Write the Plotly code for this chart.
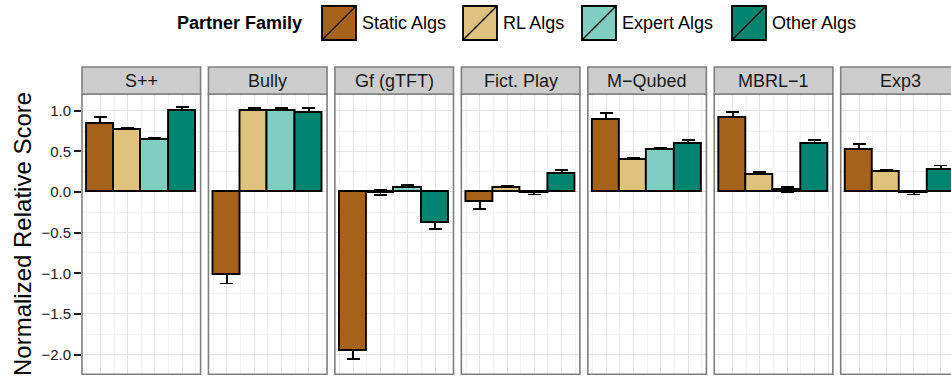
import plotly.graph_objects as go

# ---- data -------------------------------------------------------------
players = ["S++", "Bully", "Gf (gTFT)", "Fict. Play", "M\u2212Qubed", "MBRL\u22121", "Exp3"]
families = ["Static Algs", "RL Algs", "Expert Algs", "Other Algs"]
family_colors = ["#A6611A", "#DFC27D", "#80CDC1", "#018571"]

static_mean = [0.84, -1.025, -1.955, -0.125, 0.89, 0.905, 0.515]
static_err = [0.08, 0.10, 0.10, 0.08, 0.08, 0.08, 0.08]
rl_mean = [0.76, 1.00, -0.01, 0.045, 0.39, 0.215, 0.25]
rl_err = [0.03, 0.03, 0.03, 0.03, 0.03, 0.03, 0.025]
expert_mean = [0.64, 1.00, 0.05, -0.01, 0.52, 0.03, -0.01]
expert_err = [0.02, 0.03, 0.035, 0.02, 0.025, 0.03, 0.02]
other_mean = [1.00, 0.97, -0.385, 0.22, 0.585, 0.59, 0.275]
other_err = [0.045, 0.06, 0.07, 0.055, 0.05, 0.05, 0.05]

y_ticks = [-2.0, -1.5, -1.0, -0.5, 0.0, 0.5, 1.0]
y_tick_text = ["\u22122.0", "\u22121.5", "\u22121.0", "\u22120.5", "0.0", "0.5", "1.0"]

# ---- geometry (pixels) -------------------------------------------------
W, H = 951, 381
PANEL_LEFT0 = 82.0
PANEL_PITCH = 126.45
PANEL_W = 118.6
PANEL_TOP, PANEL_BOTTOM = 94.0, 374.3
STRIP_TOP = 67.0
X_RANGE = (0.328, 4.672)
Y_RANGE = (-2.242, 1.205)
px_per_unit = PANEL_W / (X_RANGE[1] - X_RANGE[0])

FONT = "Liberation Sans, Arial, Helvetica, sans-serif"
GRID_MAJOR = "#e5e5e5"
GRID_MINOR = "#f3f3f3"
BORDER = "#7f7f7f"


def px_x(p):
    return p / W


def px_y(p):
    return 1 - p / H


fig = go.Figure()
shapes = []
annotations = []

means = [static_mean, rl_mean, expert_mean, other_mean]
errs = [static_err, rl_err, expert_err, other_err]
xs = [1, 2, 3, 4]

for i, name in enumerate(players):
    n = "" if i == 0 else str(i + 1)
    xa, ya = "x" + n, "y" + n
    left = PANEL_LEFT0 + i * PANEL_PITCH
    right = min(left + PANEL_W, W)
    xr_end = X_RANGE[0] + (right - left) / px_per_unit

    vals = [m[i] for m in means]
    ers = [e[i] for e in errs]

    # error bars first, so the bars drawn afterwards cover their inner half
    fig.add_trace(go.Bar(
        x=xs, y=vals, width=1.0, xaxis=xa, yaxis=ya, showlegend=False,
        marker=dict(color="rgba(0,0,0,0)", line=dict(width=0)),
        error_y=dict(type="data", array=ers, symmetric=True, color="black",
                     thickness=1.8, width=6.5),
        hoverinfo="skip",
    ))
    fig.add_trace(go.Bar(
        x=xs, y=vals, width=1.0, xaxis=xa, yaxis=ya, showlegend=False,
        marker=dict(color=family_colors, line=dict(color="black", width=1.9)),
        hovertext=families, name=name,
    ))

    fig.layout["xaxis" + n] = dict(
        domain=[px_x(left), px_x(right)], range=[X_RANGE[0], xr_end],
        anchor=ya, showticklabels=False, ticks="", zeroline=False,
        showline=False, tickvals=xs, showgrid=True, gridcolor=GRID_MAJOR,
        gridwidth=1,
        minor=dict(tickvals=[0.5, 1.5, 2.5, 3.5, 4.5], showgrid=True,
                   gridcolor=GRID_MINOR, gridwidth=1, ticks=""),
        fixedrange=True,
    )
    ycfg = dict(
        domain=[px_y(PANEL_BOTTOM), px_y(PANEL_TOP)], range=list(Y_RANGE),
        anchor=xa, zeroline=False, showline=False, tickvals=y_ticks,
        showgrid=True, gridcolor=GRID_MAJOR, gridwidth=1,
        minor=dict(tickvals=[-2.25, -1.75, -1.25, -0.75, -0.25, 0.25, 0.75],
                   showgrid=True, gridcolor=GRID_MINOR, gridwidth=1, ticks=""),
        fixedrange=True,
    )
    if i == 0:
        ycfg.update(ticktext=y_tick_text, ticks="outside", ticklen=7,
                    tickwidth=1.8, tickcolor="#1a1a1a",
                    tickfont=dict(family=FONT, size=15, color="#1a1a1a"))
    else:
        ycfg.update(showticklabels=False, ticks="")
    fig.layout["yaxis" + n] = ycfg

    # panel border (the last one runs off the page edge)
    full_right = left + PANEL_W
    shapes.append(dict(type="rect", xref="paper", yref="paper",
                       x0=px_x(left), x1=px_x(full_right),
                       y0=px_y(PANEL_BOTTOM), y1=px_y(PANEL_TOP),
                       line=dict(color=BORDER, width=1.6), fillcolor="rgba(0,0,0,0)",
                       layer="above"))
    # strip
    shapes.append(dict(type="rect", xref="paper", yref="paper",
                       x0=px_x(left), x1=px_x(full_right),
                       y0=px_y(PANEL_TOP), y1=px_y(STRIP_TOP),
                       line=dict(color=BORDER, width=1.6), fillcolor="#cccccc",
                       layer="above"))
    annotations.append(dict(text=name, xref="paper", yref="paper",
                            x=px_x(left + PANEL_W / 2), y=px_y((STRIP_TOP + PANEL_TOP) / 2),
                            xanchor="center", yanchor="middle", showarrow=False,
                            font=dict(family=FONT, size=18, color="#1a1a1a")))

# y-axis title
annotations.append(dict(text="Normalized Relative Score", xref="paper", yref="paper",
                        x=px_x(22), y=px_y(234), xanchor="center", yanchor="middle",
                        textangle=-90, showarrow=False,
                        font=dict(family=FONT, size=24, color="black")))

# legend drawn at the top
annotations.append(dict(text="<b>Partner Family</b>", xref="paper", yref="paper",
                        x=px_x(304), y=px_y(23), xanchor="right", yanchor="middle",
                        showarrow=False, font=dict(family=FONT, size=18, color="black")))
key_left = [322, 463, 582, 732]
KEY_TOP, KEY_BOTTOM, KEY_W = 6, 40, 34
for fam, col, kx in zip(families, family_colors, key_left):
    shapes.append(dict(type="rect", xref="paper", yref="paper",
                       x0=px_x(kx), x1=px_x(kx + KEY_W),
                       y0=px_y(KEY_BOTTOM), y1=px_y(KEY_TOP),
                       fillcolor=col, line=dict(color="black", width=1.8)))
    shapes.append(dict(type="line", xref="paper", yref="paper",
                       x0=px_x(kx), x1=px_x(kx + KEY_W),
                       y0=px_y(KEY_BOTTOM), y1=px_y(KEY_TOP),
                       line=dict(color="black", width=1.5)))
    annotations.append(dict(text=fam, xref="paper", yref="paper",
                            x=px_x(kx + KEY_W + 4), y=px_y(23), xanchor="left",
                            yanchor="middle", showarrow=False,
                            font=dict(family=FONT, size=18, color="black")))

fig.update_layout(
    width=W, height=H, margin=dict(l=0, r=0, t=0, b=0),
    paper_bgcolor="white", plot_bgcolor="white",
    barmode="overlay", bargap=0, showlegend=False,
    shapes=shapes, annotations=annotations,
    font=dict(family=FONT),
)

fig.write_html("out.html")
